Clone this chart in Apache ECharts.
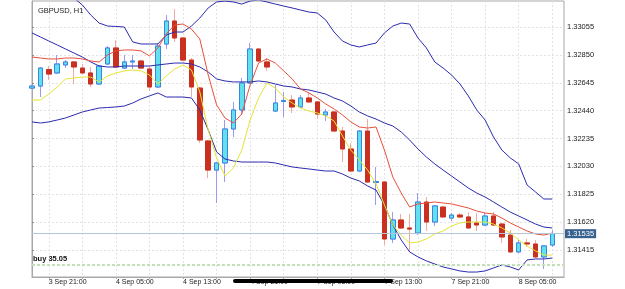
<!DOCTYPE html>
<html>
<head>
<meta charset="utf-8">
<script src="https://cdn.jsdelivr.net/npm/echarts@6.0.0/dist/echarts.min.js"></script>
<style>
html, body { margin: 0; padding: 0; background: #fff; }
#chart { width: 625px; height: 289px; }
</style>
</head>
<body>
<div id="chart"></div>
<script>
// GBPUSD H1 bars, index 0 = first bar on the left
var barOpen = [1.32606,1.32621,1.32742,1.32717,1.32776,1.32798,1.32753,1.32717,1.32636,1.32783,
	1.32901,1.32753,1.32798,1.32805,1.32746,1.32614,1.32930,1.33099,1.32974,1.32812,
	1.32606,1.32217,1.32003,1.32055,1.32305,1.32445,1.32643,1.32893,1.32798,1.32437,
	1.32507,1.32518,1.32467,1.32533,1.32504,1.32408,1.32430,1.32290,1.32158,1.31996,
	1.32290,1.31911,1.31915,1.31496,1.31636,1.31577,1.31540,1.31768,1.31621,1.31731,
	1.31650,1.31672,1.31658,1.31614,1.31599,1.31665,1.31606,1.31525,1.31401,1.31467,
	1.31459,1.31364,1.31452];
var barClose = [1.32621,1.32753,1.32709,1.32783,1.32798,1.32761,1.32717,1.32636,1.32768,1.32901,
	1.32761,1.32798,1.32805,1.32753,1.32614,1.32915,1.33099,1.32974,1.32812,1.32614,
	1.32224,1.32003,1.32055,1.32305,1.32445,1.32643,1.32893,1.32805,1.32761,1.32496,
	1.32515,1.32467,1.32533,1.32504,1.32415,1.32430,1.32290,1.32158,1.31996,1.32290,
	1.31915,1.31919,1.31496,1.31636,1.31577,1.31569,1.31768,1.31621,1.31739,1.31658,
	1.31672,1.31658,1.31577,1.31599,1.31665,1.31599,1.31511,1.31401,1.31467,1.31459,
	1.31364,1.31445,1.31535];
var barLow = [1.32599,1.32540,1.32665,1.32709,1.32753,1.32636,1.32709,1.32614,1.32629,1.32776,
	1.32753,1.32746,1.32746,1.32746,1.32584,1.32606,1.32893,1.32945,1.32805,1.32540,
	1.32201,1.31944,1.31761,1.31915,1.32246,1.32408,1.32636,1.32798,1.32732,1.32430,
	1.32393,1.32423,1.32459,1.32496,1.32378,1.32364,1.32283,1.32062,1.31988,1.31988,
	1.31908,1.31746,1.31452,1.31467,1.31569,1.31401,1.31525,1.31555,1.31591,1.31650,
	1.31628,1.31650,1.31569,1.31555,1.31591,1.31591,1.31467,1.31393,1.31393,1.31437,
	1.31356,1.31276,1.31437];
var barHigh = [1.32629,1.32761,1.32768,1.32849,1.32812,1.32805,1.32783,1.32761,1.32776,1.32915,
	1.32959,1.32849,1.32849,1.32812,1.32768,1.32937,1.33143,1.33187,1.32982,1.32827,
	1.32614,1.32224,1.32062,1.32371,1.32504,1.32680,1.32937,1.32901,1.32827,1.32629,
	1.32577,1.32555,1.32555,1.32577,1.32511,1.32452,1.32437,1.32320,1.32201,1.32298,
	1.32378,1.32026,1.31923,1.31694,1.31680,1.31680,1.31834,1.31805,1.31746,1.31739,
	1.31687,1.31687,1.31694,1.31687,1.31687,1.31694,1.31614,1.31562,1.31489,1.31496,
	1.31489,1.31452,1.31562];

// bollinger bands
var bbUpper = [1.33474,1.33430,1.33386,1.33349,1.33312,1.33268,1.33217,1.33143,1.33084,1.33062,
	1.33059,1.33055,1.32945,1.32930,1.32930,1.32930,1.32996,1.33018,1.33018,1.33062,
	1.33121,1.33195,1.33239,1.33246,1.33239,1.33224,1.33246,1.33254,1.33239,1.33224,
	1.33209,1.33195,1.33180,1.33165,1.33158,1.33107,1.33018,1.32952,1.32923,1.32908,
	1.32923,1.32937,1.33011,1.33062,1.33084,1.33077,1.32974,1.32901,1.32798,1.32753,
	1.32702,1.32636,1.32548,1.32445,1.32371,1.32246,1.32150,1.32092,1.32048,1.31893,
	1.31842,1.31790,1.31790];
var bbMiddle = [1.33011,1.32982,1.32952,1.32923,1.32893,1.32864,1.32834,1.32798,1.32768,1.32761,
	1.32761,1.32768,1.32768,1.32768,1.32768,1.32776,1.32783,1.32790,1.32790,1.32783,
	1.32761,1.32724,1.32673,1.32658,1.32651,1.32651,1.32651,1.32658,1.32651,1.32636,
	1.32621,1.32614,1.32599,1.32592,1.32577,1.32562,1.32533,1.32511,1.32474,1.32430,
	1.32401,1.32378,1.32349,1.32327,1.32283,1.32224,1.32158,1.32099,1.32048,1.32003,
	1.31959,1.31915,1.31871,1.31834,1.31805,1.31768,1.31731,1.31694,1.31665,1.31636,
	1.31606,1.31584,1.31577];
var bbLower = [1.32357,1.32349,1.32357,1.32371,1.32386,1.32408,1.32430,1.32445,1.32459,1.32463,
	1.32467,1.32474,1.32496,1.32526,1.32548,1.32570,1.32540,1.32540,1.32540,1.32533,
	1.32445,1.32298,1.32136,1.32084,1.32070,1.32062,1.32062,1.32062,1.32062,1.32055,
	1.32040,1.32026,1.32018,1.32011,1.32003,1.31996,1.31996,1.31974,1.31944,1.31923,
	1.31886,1.31856,1.31746,1.31599,1.31489,1.31401,1.31364,1.31335,1.31312,1.31290,
	1.31276,1.31261,1.31253,1.31253,1.31261,1.31283,1.31305,1.31290,1.31268,1.31342,
	1.31349,1.31349,1.31356];

// moving averages (red = fast, yellow = slow)
var maFast = [1.32834,1.32827,1.32820,1.32820,1.32827,1.32827,1.32820,1.32805,1.32798,1.32849,
	1.32879,1.32886,1.32886,1.32879,1.32842,1.32901,1.33004,1.33070,1.33077,1.33040,
	1.32967,1.32702,1.32482,1.32386,1.32349,1.32415,1.32629,1.32790,1.32820,1.32790,
	1.32732,1.32673,1.32599,1.32570,1.32533,1.32489,1.32452,1.32408,1.32357,1.32320,
	1.32312,1.32320,1.32150,1.31952,1.31834,1.31731,1.31754,1.31761,1.31768,1.31761,
	1.31754,1.31739,1.31724,1.31702,1.31687,1.31680,1.31650,1.31614,1.31584,1.31555,
	1.31533,1.31525,1.31540];
var maSlow = [1.32518,1.32518,1.32562,1.32614,1.32673,1.32680,1.32687,1.32687,1.32651,1.32695,
	1.32717,1.32732,1.32739,1.32732,1.32702,1.32636,1.32695,1.32746,1.32776,1.32739,
	1.32577,1.32298,1.32092,1.31959,1.32018,1.32150,1.32371,1.32533,1.32643,1.32606,
	1.32540,1.32496,1.32459,1.32437,1.32423,1.32401,1.32364,1.32253,1.32150,1.32077,
	1.32003,1.31901,1.31746,1.31599,1.31525,1.31467,1.31474,1.31496,1.31533,1.31555,
	1.31591,1.31614,1.31621,1.31621,1.31621,1.31606,1.31577,1.31540,1.31489,1.31445,
	1.31408,1.31378,1.31378];

// axis ticks / labels
var xLabelIdx = [2, 10, 18, 26, 34, 42, 50, 58];
var xLabels = ['3 Sep 21:00', '4 Sep 05:00', '4 Sep 13:00', '4 Sep 21:00', '7 Sep 05:00', '7 Sep 13:00', '7 Sep 21:00', '8 Sep 05:00'];
var xGridIdx = [2, 6, 10, 14, 18, 22, 26, 30, 34, 38, 42, 46, 50, 54, 58, 62];
var yTicks = [1.31415, 1.31620, 1.31825, 1.32030, 1.32235, 1.32440, 1.32645, 1.32850, 1.33055];
var orderLevel = 1.31305;
var orderText = 'buy 35.05';

var full = [];
var bodies = [];
for (var i = 0; i < barOpen.length; i++) {
	full.push([i, barOpen[i], barClose[i], barLow[i], barHigh[i]]);
	bodies.push([i, barOpen[i], barClose[i], Math.min(barOpen[i], barClose[i]), Math.max(barOpen[i], barClose[i])]);
}
function line(arr) {
	var out = [];
	for (var j = 0; j < arr.length; j++) out.push([j, arr[j]]);
	return out;
}
var lastClose = barClose[barClose.length - 1];
var font = 'Liberation Sans';

var chart = echarts.init(document.getElementById('chart'));
chart.setOption({
	animation: false,
	backgroundColor: '#fff',
	title: {
		text: 'GBPUSD, H1', left: 33, top: 2,
		textStyle: { fontSize: 7.5, fontWeight: 'normal', color: '#222', fontFamily: font }
	},
	grid: { left: 32, right: 61, top: 1, bottom: 12, show: true, borderColor: '#a8a8a8', borderWidth: 1, backgroundColor: '#fff' },
	xAxis: {
		type: 'value', min: 0, max: 63.4,
		axisLine: { show: true, lineStyle: { color: '#a8a8a8' } },
		axisTick: { show: true, length: 2, customValues: xGridIdx, lineStyle: { color: '#a8a8a8' } },
		axisLabel: {
			customValues: xLabelIdx, align: 'left', margin: 2,
			fontSize: 7, color: '#222', fontFamily: font,
			formatter: function (v) { return xLabels[xLabelIdx.indexOf(Math.round(v))] || ''; }
		},
		splitLine: { show: true, lineStyle: { color: '#e2e2e2', type: [2, 2] } }
	},
	yAxis: {
		type: 'value', position: 'right', min: 1.312165, max: 1.332462, scale: true,
		axisLine: { show: true, lineStyle: { color: '#a8a8a8' } },
		axisTick: { show: true, length: 2, customValues: yTicks, lineStyle: { color: '#888' } },
		axisLabel: {
			customValues: yTicks, margin: 3, fontSize: 7.5, color: '#222', fontFamily: font,
			formatter: function (v) { return v.toFixed(5); }
		},
		splitLine: { show: true, lineStyle: { color: '#e2e2e2', type: [2, 2] } }
	},
	series: [
	{
		// order level + current price lines
		type: 'line', data: [], showSymbol: false,
		markLine: {
			symbol: 'none', silent: true, precision: 5,
			data: [{
				yAxis: orderLevel,
				lineStyle: { color: '#c2e0b8', type: [3, 2], width: 2 },
				label: {
					position: 'insideStartTop', distance: [1, 2], formatter: orderText,
					fontSize: 7.5, fontWeight: 'bold', color: '#111', fontFamily: font
				}
			}, {
				yAxis: lastClose,
				lineStyle: { color: '#b3c6da', type: 'solid', width: 1 },
				label: {
					position: 'end', distance: 1, formatter: lastClose.toFixed(5),
					backgroundColor: '#37618f', color: '#fff', padding: [1, 2, 0, 2],
					fontSize: 7.5, fontFamily: font
				}
			}]
		}
	},
	{
		// wicks
		type: 'candlestick', data: full, encode: { x: 0, y: [1, 2, 3, 4] },
		barWidth: 5, clip: true,
		itemStyle: { color: '#9a9af2', color0: '#f1aaa2', borderColor: '#9a9af2', borderColor0: '#f1aaa2', borderWidth: 1 }
	}, {
		// bodies
		type: 'candlestick', data: bodies, encode: { x: 0, y: [1, 2, 3, 4] },
		barWidth: 5, clip: true,
		itemStyle: { color: '#62e0ec', color0: '#c9301f', borderColor: '#3a84e2', borderColor0: '#c9301f', borderWidth: 1 }
	},
	{ type: 'line', data: line(bbUpper), showSymbol: false, clip: true, lineStyle: { color: '#2b2bb0', width: 1 } },
	{ type: 'line', data: line(bbMiddle), showSymbol: false, clip: true, lineStyle: { color: '#2b2bb0', width: 1 } },
	{ type: 'line', data: line(bbLower), showSymbol: false, clip: true, lineStyle: { color: '#2b2bb0', width: 1 } },
	{ type: 'line', data: line(maFast), showSymbol: false, clip: true, lineStyle: { color: '#e8503c', width: 1 } },
	{ type: 'line', data: line(maSlow), showSymbol: false, clip: true, lineStyle: { color: '#e4e436', width: 1 } }
	],
	graphic: [{
		type: 'rect', z: 100,
		shape: { x: 233, y: 279, width: 160, height: 4, r: 2 },
		style: { fill: '#000' }
	}]
});
</script>
</body>
</html>
